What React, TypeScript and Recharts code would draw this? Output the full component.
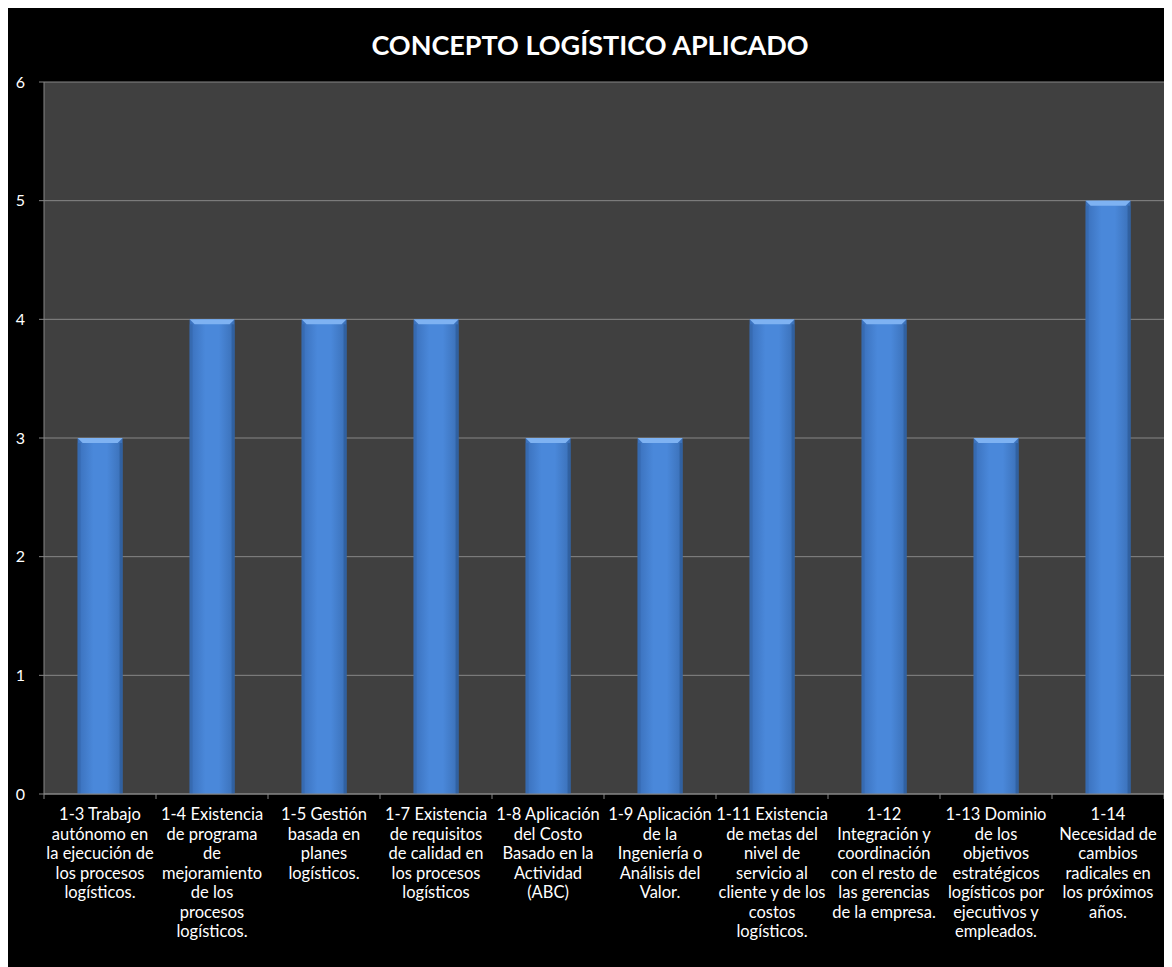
import { BarChart, Bar, XAxis, YAxis, CartesianGrid } from "recharts";

const categories = [
  "1-3 Trabajo autónomo en la ejecución de los procesos logísticos.",
  "1-4 Existencia de programa de mejoramiento de los procesos logísticos.",
  "1-5 Gestión basada en planes logísticos.",
  "1-7  Existencia de requisitos de calidad en los procesos logísticos",
  "1-8 Aplicación del Costo Basado en la Actividad (ABC)",
  "1-9 Aplicación de la Ingeniería o Análisis del Valor.",
  "1-11 Existencia de metas del nivel de servicio al cliente y de los costos logísticos.",
  "1-12 Integración y coordinación con el resto de las gerencias de la empresa.",
  "1-13 Dominio de los objetivos estratégicos logísticos por ejecutivos y empleados.",
  "1-14 Necesidad de cambios radicales en los próximos años.",
];

const labelLines = [
  ["1-3 Trabajo", "autónomo en", "la ejecución de", "los procesos", "logísticos."],
  ["1-4 Existencia", "de programa", "de", "mejoramiento", "de los", "procesos", "logísticos."],
  ["1-5 Gestión", "basada en", "planes", "logísticos."],
  ["1-7  Existencia", "de requisitos", "de calidad en", "los procesos", "logísticos"],
  ["1-8 Aplicación", "del Costo", "Basado en la", "Actividad", "(ABC)"],
  ["1-9 Aplicación", "de la", "Ingeniería o", "Análisis del", "Valor."],
  ["1-11 Existencia", "de metas del", "nivel de", "servicio al", "cliente y de los", "costos", "logísticos."],
  ["1-12", "Integración y", "coordinación", "con el resto de", "las gerencias", "de la empresa."],
  ["1-13 Dominio", "de los", "objetivos", "estratégicos", "logísticos por", "ejecutivos y", "empleados."],
  ["1-14", "Necesidad de", "cambios", "radicales en", "los próximos", "años."],
];

const values = [3, 4, 4, 4, 3, 3, 4, 4, 3, 5];
const yTicks = [0, 1, 2, 3, 4, 5, 6];

const data = categories.map((name, i) => ({ name, idx: i, value: values[i] }));

const W = 1164;
const H = 959;
const M = { top: 74, right: 8, left: 0, bottom: 0 };
const Y_W = 36;
const X_H = 173;
const band = (W - M.left - M.right - Y_W) / categories.length;
const FONT = "Lato, 'Open Sans', sans-serif";

function CatTick(props: any) {
  const { x, y, index } = props;
  const lines = labelLines[index] || [];
  return (
    <g>
      <line x1={x - band / 2} x2={x - band / 2} y1={y} y2={y + 5} stroke="#868686" />
      {index === categories.length - 1 && (
        <line x1={x + band / 2} x2={x + band / 2} y1={y} y2={y + 5} stroke="#868686" />
      )}
      <text x={x} y={y + 26} textAnchor="middle" fill="#ffffff" fontSize={16.5} fontFamily={FONT}>
        {lines.map((l, i) => (
          <tspan key={i} x={x} dy={i === 0 ? 0 : 19.5}>
            {l}
          </tspan>
        ))}
      </text>
    </g>
  );
}

function BevelBar(props: any) {
  const { x, y, width, height } = props;
  if (!height || height <= 0) return null;
  const b = 5;
  return (
    <g>
      <rect x={x} y={y} width={width} height={height} fill="url(#barGrad)" />
      <polygon
        points={`${x},${y} ${x + width},${y} ${x + width - b},${y + b} ${x + b},${y + b}`}
        fill="#7eb2f2"
      />
      <rect x={x} y={y + b} width={3} height={height - b} fill="#3466a8" opacity={0.6} />
      <rect x={x + width - 3} y={y + b} width={3} height={height - b} fill="#2c5a96" opacity={0.7} />
    </g>
  );
}

export default function App() {
  return (
    <div style={{ position: "relative", width: W, height: H, background: "#000000" }}>
      <div
        style={{
          position: "absolute",
          top: 20,
          left: 0,
          width: W,
          textAlign: "center",
          color: "#ffffff",
          fontFamily: FONT,
          fontWeight: 700,
          fontSize: 27,
        }}
      >
        CONCEPTO LOGÍSTICO APLICADO
      </div>
      <BarChart width={W} height={H} data={data} margin={M} barCategoryGap="30%">
        <defs>
          <linearGradient id="barGrad" x1="0" y1="0" x2="1" y2="0">
            <stop offset="0%" stopColor="#3a70bb" />
            <stop offset="35%" stopColor="#4a88da" />
            <stop offset="65%" stopColor="#4a88da" />
            <stop offset="100%" stopColor="#3a6fb6" />
          </linearGradient>
        </defs>
        <CartesianGrid
          vertical={false}
          stroke="#868686"
          fill="#404040"
          fillOpacity={1}
        />
        <XAxis
          dataKey="name"
          interval={0}
          height={X_H}
          tickLine={false}
          tickSize={0}
          tickMargin={0}
          tick={<CatTick />}
          axisLine={{ stroke: "#868686" }}
        />
        <YAxis
          width={Y_W}
          domain={[0, 6]}
          ticks={yTicks}
          interval={0}
          tickSize={5}
          tickMargin={14}
          tick={{ fill: "#ffffff", fontSize: 16, fontFamily: FONT }}
          tickLine={{ stroke: "#868686" }}
          axisLine={{ stroke: "#868686" }}
        />
        <Bar dataKey="value" shape={<BevelBar />} isAnimationActive={false} />
      </BarChart>
    </div>
  );
}
